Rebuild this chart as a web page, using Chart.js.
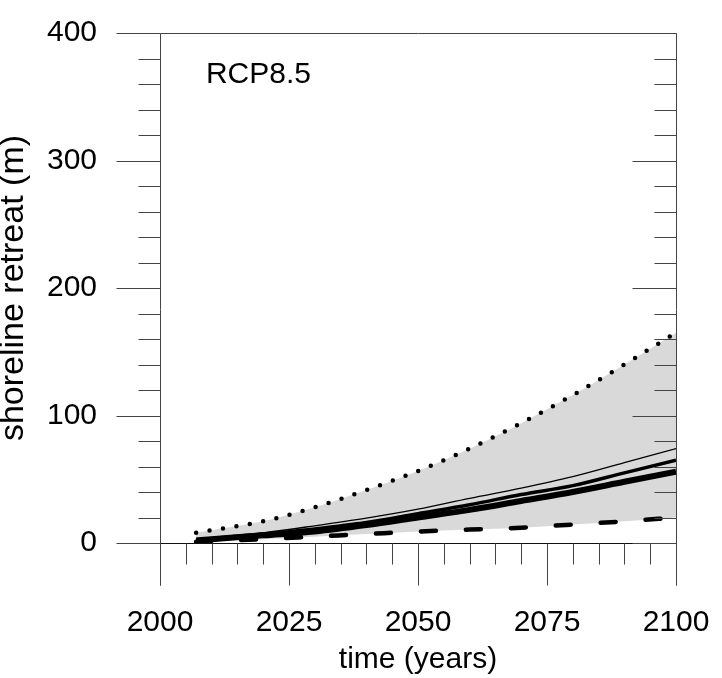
<!DOCTYPE html>
<html>
<head>
<meta charset="utf-8">
<script src="https://cdn.jsdelivr.net/npm/chart.js@4"></script>
<style>
  html, body { margin: 0; padding: 0; background: #fff; }
  #wrap { width: 722px; height: 678px; }
</style>
</head>
<body>
<div id="wrap"><canvas id="retreatChart" width="722" height="678"></canvas></div>
<script>
// years of the projection
const years = [2007, 2010, 2020, 2030, 2040, 2050, 2060, 2070, 2080, 2090, 2100];

// shoreline retreat (m)
const upperBound = [8, 10, 17, 28, 41.5, 56.5, 74, 94, 116, 140, 165];
const lowerBound = [1, 1.5, 3, 5, 7, 9, 10.5, 12, 14.5, 17, 20];
const thinLine   = [3, 4, 8, 13.5, 19.5, 26.5, 35, 43, 52, 63, 74];
const midLine    = [2.5, 3.5, 7, 11, 16, 23, 30, 38, 45, 55, 65];
const thickLine  = [2, 3, 6, 9, 14, 20, 26, 33, 40, 48, 56];

// tick labels
const xTickLabels = [2000, 2025, 2050, 2075, 2100];
const yTickLabels = [0, 100, 200, 300, 400];

const toPoints = (vals) => vals.map((v, i) => ({ x: years[i], y: v }));

const FONT = "'Liberation Sans', Arial, Helvetica, sans-serif";

// frame and tick marks, placed with the chart's own scales
const framePlugin = {
    id: 'frame',
    afterDraw(chart) {
        const { ctx, scales: { x, y } } = chart;
        ctx.save();
        ctx.strokeStyle = '#444';
        ctx.lineWidth = 1;

        const line = (x1, y1, x2, y2) => {
            ctx.beginPath();
            ctx.moveTo(x1, y1);
            ctx.lineTo(x2, y2);
            ctx.stroke();
        };

        const left = Math.round(x.getPixelForValue(2000)) + 0.5;
        const right = Math.round(x.getPixelForValue(2100)) + 0.5;
        const top = Math.round(y.getPixelForValue(400)) + 0.5;
        const zero = Math.round(y.getPixelForValue(0)) + 0.5;

        // axis lines
        line(left, top, left, zero + 42);
        line(right, top, right, zero + 42);
        line(left, top, right, top);
        ctx.strokeStyle = '#111';
        line(left, zero, right, zero);
        ctx.strokeStyle = '#444';

        // y ticks: out on the left, in on the right
        for (let v = 0; v <= 400; v += 20) {
            const py = Math.round(y.getPixelForValue(v)) + 0.5;
            const len = yTickLabels.includes(v) ? 44 : 22;
            line(left - len, py, left, py);
            line(right - len, py, right, py);
        }

        // x ticks hanging below the zero line
        for (let yr = 2000; yr <= 2100; yr += 5) {
            const px = Math.round(x.getPixelForValue(yr)) + 0.5;
            const len = xTickLabels.includes(yr) ? 42 : 21;
            line(px, zero, px, zero + len);
        }

        // scenario label
        ctx.fillStyle = '#000';
        ctx.font = '30px ' + FONT;
        ctx.textAlign = 'left';
        ctx.textBaseline = 'alphabetic';
        ctx.fillText('RCP8.5', x.getPixelForValue(2008.9), y.getPixelForValue(361));
        ctx.restore();
    }
};

const ctx = document.getElementById('retreatChart').getContext('2d');
const retreatChart = new Chart(ctx, {

    type: 'line',

    data: {
        datasets: [
            {
                label: 'upper',
                data: toPoints(upperBound),
                borderColor: '#000',
                borderWidth: 4.5,
                borderDash: [0, 13.6],
                borderCapStyle: 'round',
                backgroundColor: '#d9d9d9',
                fill: 1
            },
            {
                label: 'lower',
                data: toPoints(lowerBound),
                borderColor: '#000',
                borderWidth: 4.5,
                borderDash: [15, 30],
                borderCapStyle: 'round',
                fill: false
            },
            {
                label: 'thin',
                data: toPoints(thinLine),
                borderColor: '#000',
                borderWidth: 1.3,
                fill: false
            },
            {
                label: 'mid',
                data: toPoints(midLine),
                borderColor: '#000',
                borderWidth: 3.5,
                fill: false
            },
            {
                label: 'thick',
                data: toPoints(thickLine),
                borderColor: '#000',
                borderWidth: 6,
                fill: false
            }
        ]
    },

    options: {
        responsive: false,
        animation: false,
        events: [],
        layout: { padding: { top: 33, right: 46, left: 0, bottom: 0 } },
        elements: {
            point: { radius: 0 },
            line: { cubicInterpolationMode: 'monotone' }
        },
        plugins: {
            legend: { display: false },
            tooltip: { enabled: false },
            filler: { drawTime: 'beforeDatasetsDraw' }
        },
        scales: {
            x: {
                type: 'linear',
                min: 2000,
                max: 2100,
                afterFit: (s) => { s.height = 135; },
                grid: { display: false, drawTicks: true, tickLength: 62 },
                border: { display: false },
                afterBuildTicks: (s) => { s.ticks = xTickLabels.map(v => ({ value: v })); },
                ticks: {
                    padding: 0,
                    color: '#000',
                    font: { family: FONT, size: 30 },
                    maxRotation: 0,
                    callback: (v) => String(v)
                },
                title: {
                    display: true,
                    text: 'time (years)',
                    color: '#000',
                    font: { family: FONT, size: 30 },
                    padding: { top: 0, bottom: 0 }
                }
            },
            y: {
                min: 0,
                max: 400,
                afterFit: (s) => { s.width = 160; },
                grid: { display: false, drawTicks: true, tickLength: 63 },
                border: { display: false },
                afterBuildTicks: (s) => { s.ticks = yTickLabels.map(v => ({ value: v })); },
                ticks: {
                    padding: 0,
                    color: '#000',
                    font: { family: FONT, size: 30 },
                    callback: (v) => String(v)
                },
                title: {
                    display: true,
                    text: 'shoreline retreat (m)',
                    color: '#000',
                    font: { family: FONT, size: 34, lineHeight: 1 },
                    padding: { top: -3, bottom: 0 }
                }
            }
        }
    },

    plugins: [framePlugin]
});
</script>
</body>
</html>
